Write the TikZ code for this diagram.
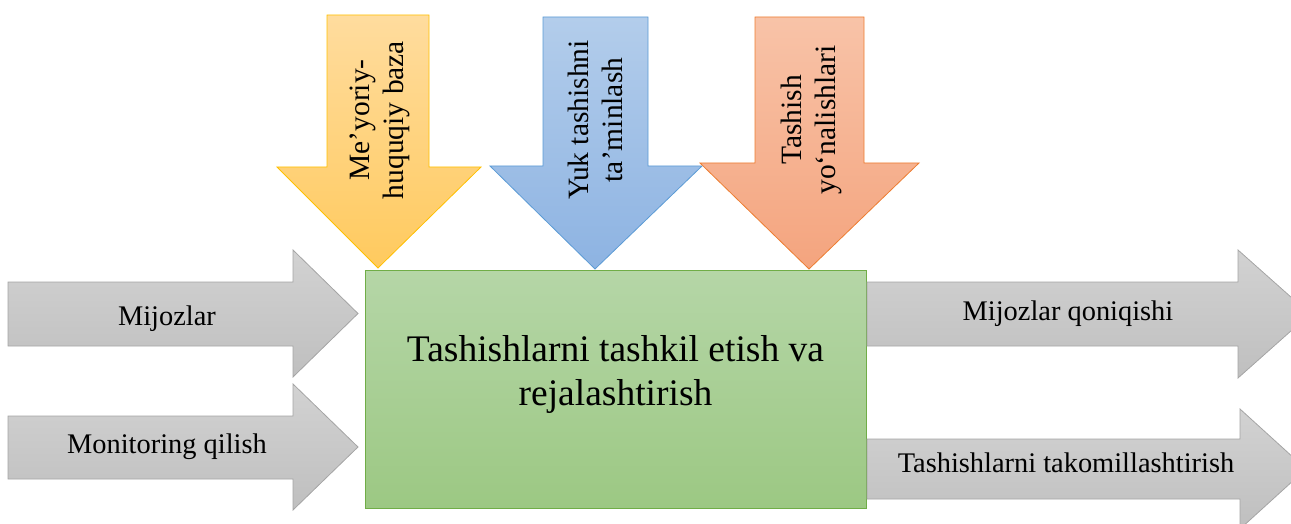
\documentclass[tikz,border=0pt]{standalone}
\usepackage{fontspec}
\setmainfont{Liberation Serif}
\definecolor{grayTop}{HTML}{D2D2D2}
\definecolor{grayBot}{HTML}{BFBFBF}
\definecolor{grayEdge}{HTML}{A5A5A5}
\definecolor{greenTop}{HTML}{B5D6A7}
\definecolor{greenBot}{HTML}{9CC883}
\definecolor{greenEdge}{HTML}{70AD47}
\definecolor{yelTop}{HTML}{FFDC9E}
\definecolor{yelBot}{HTML}{FFCA5E}
\definecolor{yelEdge}{HTML}{FFC000}
\definecolor{bluTop}{HTML}{B3CDEB}
\definecolor{bluBot}{HTML}{8DB3E2}
\definecolor{bluEdge}{HTML}{5B9BD5}
\definecolor{orTop}{HTML}{F8C3A8}
\definecolor{orBot}{HTML}{F4A47E}
\definecolor{orEdge}{HTML}{ED7D31}
\begin{document}
\begin{tikzpicture}[x=1pt,y=-1pt,
  grayarrow/.style={draw=grayEdge, line width=0.8pt, top color=grayTop, bottom color=grayBot},
  yelarrow/.style={draw=yelEdge, line width=0.8pt, top color=yelTop, bottom color=yelBot},
  bluarrow/.style={draw=bluEdge, line width=0.8pt, top color=bluTop, bottom color=bluBot},
  orarrow/.style={draw=orEdge, line width=0.8pt, top color=orTop, bottom color=orBot},
  mainbox/.style={draw=greenEdge, line width=0.8pt, top color=greenTop, bottom color=greenBot},
  lbl/.style={font=\fontsize{28.4}{33}\selectfont, align=center, inner sep=0pt, text=black},
  vlbl/.style={font=\fontsize{29.5}{34}\selectfont, align=center, inner sep=0pt, text=black, rotate=90},
  mainlbl/.style={font=\fontsize{37.5}{43.5}\selectfont, align=center, inner sep=0pt, text=black}]
\useasboundingbox (0,0) rectangle (1291,524);
\clip (0,0) rectangle (1291,524);
% central box
\path[mainbox] (365,270) rectangle (866,508);
% downward arrows
\path[yelarrow] (327,15) -- (429,15) -- (429,167) -- (481,167) -- (378,268) -- (277,167) -- (327,167) -- cycle;
\path[bluarrow] (543,17) -- (648,17) -- (648,166) -- (702,166) -- (595,269) -- (490,166) -- (543,166) -- cycle;
\path[orarrow] (755,17) -- (864,17) -- (864,163) -- (919,163) -- (809,269) -- (700,163) -- (755,163) -- cycle;
% left arrows
\path[grayarrow] (8,282) -- (293,282) -- (293,250) -- (358,313.5) -- (293,377) -- (293,346) -- (8,346) -- cycle;
\path[grayarrow] (8,416) -- (293,416) -- (293,384) -- (358,447) -- (293,510) -- (293,479) -- (8,479) -- cycle;
% right arrows
\path[grayarrow] (867,282) -- (1238,282) -- (1238,250) -- (1310,314) -- (1238,378) -- (1238,346) -- (867,346) -- cycle;
\path[grayarrow] (867,439) -- (1240,439) -- (1240,409) -- (1306,469) -- (1240,529) -- (1240,499) -- (867,499) -- cycle;
% texts
\node[mainlbl] (main) at (615.5,374.5) {Tashishlarni tashkil etish va\\rejalashtirish};
\node[vlbl] (norm) at (380,120) {Me’yoriy-\\huquqiy baza};
\node[vlbl] (yuk) at (595.5,120) {Yuk tashishni\\ta’minlash};
\node[vlbl] (yon) at (811.5,120) {Tashish\\yo‘nalishlari};
\node[lbl, anchor=base] (mij) at (167,325) {Mijozlar};
\node[lbl, anchor=base] (mon) at (167,453) {Monitoring qilish};
\node[lbl, anchor=base] (qon) at (1068,320) {Mijozlar qoniqishi};
\node[lbl, anchor=base] (tak) at (1066,472) {Tashishlarni takomillashtirish};
\end{tikzpicture}
\end{document}
